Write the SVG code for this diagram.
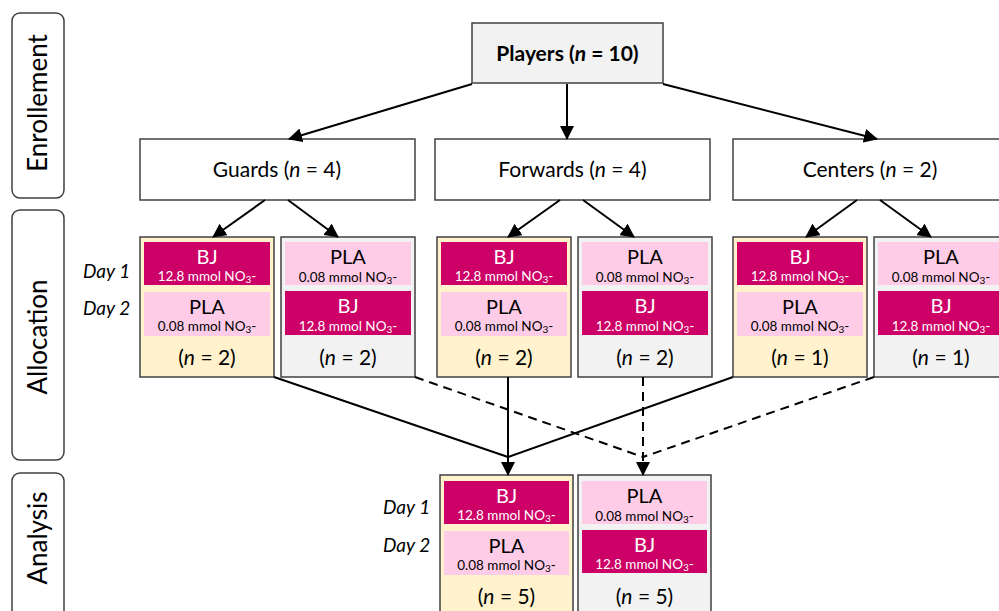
<svg xmlns="http://www.w3.org/2000/svg" width="999" height="611" viewBox="0 0 999 611">
<style>
text{font-family:Lato,"Open Sans","Liberation Sans",sans-serif;fill:#000}
.side{fill:#fff;stroke:#404040;stroke-width:1.5}
.sidet{font-size:26px;text-anchor:middle}
.node{fill:#fff;stroke:#404040;stroke-width:1.5}
.top{fill:#f2f2f2;stroke:#404040;stroke-width:1.5}
.yel{fill:#fff2cc;stroke:#404040;stroke-width:1.5}
.gry{fill:#f2f2f2;stroke:#404040;stroke-width:1.5}
.bj{fill:#cc0066}
.pla{fill:#ffcce8}
.nt{font-size:21px;text-anchor:middle}
.big{font-size:20px;text-anchor:middle}
.sub{font-size:13.5px;text-anchor:middle}
.w{fill:#fff}
.day{font-size:19px;font-style:italic}
.ln{stroke:#000;stroke-width:2;fill:none}
.dash{stroke-dasharray:9 6}
</style>
<defs>
<marker id="ah" markerUnits="userSpaceOnUse" markerWidth="14" markerHeight="14" viewBox="0 0 14 14" refX="13" refY="7" orient="auto">
<path d="M0,0 L14,7 L0,14 z" fill="#000"/>
</marker>
</defs>

<g id="side-enrollement"><rect class="side" x="12" y="13" width="52" height="185" rx="8"/><text class="sidet" transform="translate(47,103) rotate(-90)">Enrollement</text></g>
<g id="side-allocation"><rect class="side" x="12" y="210" width="52" height="250" rx="8"/><text class="sidet" transform="translate(47,337) rotate(-90)">Allocation</text></g>
<g id="side-analysis"><rect class="side" x="12" y="473" width="52" height="150" rx="8"/><text class="sidet" transform="translate(47,538) rotate(-90)">Analysis</text></g>

<g id="players"><rect class="top" x="472" y="23" width="191" height="60"/><text class="nt" x="567.5" y="61" font-weight="bold">Players (<tspan font-style="italic">n</tspan> = 10)</text></g>

<g id="guards"><rect class="node" x="140" y="139" width="275" height="61"/><text class="nt" x="277" y="177">Guards (<tspan font-style="italic">n</tspan> = 4)</text></g>
<g id="forwards"><rect class="node" x="435" y="139" width="275" height="61"/><text class="nt" x="572.5" y="177">Forwards (<tspan font-style="italic">n</tspan> = 4)</text></g>
<g id="centers"><rect class="node" x="733" y="139" width="275" height="61"/><text class="nt" x="870" y="177">Centers (<tspan font-style="italic">n</tspan> = 2)</text></g>

<g id="day-labels">
<text class="day" x="83" y="278">Day 1</text>
<text class="day" x="83" y="315">Day 2</text>
<text class="day" x="383" y="514">Day 1</text>
<text class="day" x="383" y="552">Day 2</text>
</g>

<g id="guards-bj-pla">
<rect class="yel" x="140" y="237" width="134" height="140"/>
<rect class="bj" x="144" y="242" width="126" height="43"/>
<text class="big w" x="207" y="264">BJ</text>
<text class="sub w" x="207" y="281">12.8 mmol NO<tspan font-size="10" dy="2">3</tspan><tspan dy="-2">-</tspan></text>
<rect class="pla" x="144" y="292" width="126" height="44"/>
<text class="big" x="207" y="314">PLA</text>
<text class="sub" x="207" y="331">0.08 mmol NO<tspan font-size="10" dy="2">3</tspan><tspan dy="-2">-</tspan></text>
<text class="nt" x="207" y="365">(<tspan font-style="italic">n</tspan> = 2)</text>
</g>
<g id="guards-pla-bj">
<rect class="gry" x="281" y="237" width="134" height="140"/>
<rect class="pla" x="285" y="242" width="126" height="43"/>
<text class="big" x="348" y="264">PLA</text>
<text class="sub" x="348" y="282">0.08 mmol NO<tspan font-size="10" dy="2">3</tspan><tspan dy="-2">-</tspan></text>
<rect class="bj" x="285" y="291" width="126" height="44"/>
<text class="big w" x="348" y="313">BJ</text>
<text class="sub w" x="348" y="331">12.8 mmol NO<tspan font-size="10" dy="2">3</tspan><tspan dy="-2">-</tspan></text>
<text class="nt" x="348" y="365">(<tspan font-style="italic">n</tspan> = 2)</text>
</g>

<g id="forwards-bj-pla">
<rect class="yel" x="437" y="237" width="134" height="140"/>
<rect class="bj" x="441" y="242" width="126" height="43"/>
<text class="big w" x="504" y="264">BJ</text>
<text class="sub w" x="504" y="281">12.8 mmol NO<tspan font-size="10" dy="2">3</tspan><tspan dy="-2">-</tspan></text>
<rect class="pla" x="441" y="292" width="126" height="44"/>
<text class="big" x="504" y="314">PLA</text>
<text class="sub" x="504" y="331">0.08 mmol NO<tspan font-size="10" dy="2">3</tspan><tspan dy="-2">-</tspan></text>
<text class="nt" x="504" y="365">(<tspan font-style="italic">n</tspan> = 2)</text>
</g>
<g id="forwards-pla-bj">
<rect class="gry" x="578" y="237" width="134" height="140"/>
<rect class="pla" x="582" y="242" width="126" height="43"/>
<text class="big" x="645" y="264">PLA</text>
<text class="sub" x="645" y="282">0.08 mmol NO<tspan font-size="10" dy="2">3</tspan><tspan dy="-2">-</tspan></text>
<rect class="bj" x="582" y="291" width="126" height="44"/>
<text class="big w" x="645" y="313">BJ</text>
<text class="sub w" x="645" y="331">12.8 mmol NO<tspan font-size="10" dy="2">3</tspan><tspan dy="-2">-</tspan></text>
<text class="nt" x="645" y="365">(<tspan font-style="italic">n</tspan> = 2)</text>
</g>

<g id="centers-bj-pla">
<rect class="yel" x="733" y="237" width="134" height="140"/>
<rect class="bj" x="737" y="242" width="126" height="43"/>
<text class="big w" x="800" y="264">BJ</text>
<text class="sub w" x="800" y="281">12.8 mmol NO<tspan font-size="10" dy="2">3</tspan><tspan dy="-2">-</tspan></text>
<rect class="pla" x="737" y="292" width="126" height="44"/>
<text class="big" x="800" y="314">PLA</text>
<text class="sub" x="800" y="331">0.08 mmol NO<tspan font-size="10" dy="2">3</tspan><tspan dy="-2">-</tspan></text>
<text class="nt" x="800" y="365">(<tspan font-style="italic">n</tspan> = 1)</text>
</g>
<g id="centers-pla-bj">
<rect class="gry" x="874" y="237" width="134" height="140"/>
<rect class="pla" x="878" y="242" width="126" height="43"/>
<text class="big" x="941" y="264">PLA</text>
<text class="sub" x="941" y="282">0.08 mmol NO<tspan font-size="10" dy="2">3</tspan><tspan dy="-2">-</tspan></text>
<rect class="bj" x="878" y="291" width="126" height="44"/>
<text class="big w" x="941" y="313">BJ</text>
<text class="sub w" x="941" y="331">12.8 mmol NO<tspan font-size="10" dy="2">3</tspan><tspan dy="-2">-</tspan></text>
<text class="nt" x="941" y="365">(<tspan font-style="italic">n</tspan> = 1)</text>
</g>

<g id="analysis-bj-pla">
<rect class="yel" x="440" y="475" width="133" height="145"/>
<rect class="bj" x="444" y="481" width="125" height="43"/>
<text class="big w" x="506.5" y="503">BJ</text>
<text class="sub w" x="506.5" y="520">12.8 mmol NO<tspan font-size="10" dy="2">3</tspan><tspan dy="-2">-</tspan></text>
<rect class="pla" x="444" y="531" width="125" height="44"/>
<text class="big" x="506.5" y="553">PLA</text>
<text class="sub" x="506.5" y="570">0.08 mmol NO<tspan font-size="10" dy="2">3</tspan><tspan dy="-2">-</tspan></text>
<text class="nt" x="506.5" y="604">(<tspan font-style="italic">n</tspan> = 5)</text>
</g>
<g id="analysis-pla-bj">
<rect class="gry" x="578" y="475" width="133" height="145"/>
<rect class="pla" x="582" y="481" width="125" height="43"/>
<text class="big" x="644.5" y="503">PLA</text>
<text class="sub" x="644.5" y="521">0.08 mmol NO<tspan font-size="10" dy="2">3</tspan><tspan dy="-2">-</tspan></text>
<rect class="bj" x="582" y="530" width="125" height="43"/>
<text class="big w" x="644.5" y="552">BJ</text>
<text class="sub w" x="644.5" y="569">12.8 mmol NO<tspan font-size="10" dy="2">3</tspan><tspan dy="-2">-</tspan></text>
<text class="nt" x="644.5" y="604">(<tspan font-style="italic">n</tspan> = 5)</text>
</g>

<g id="connectors">
<line class="ln" x1="472" y1="84" x2="289" y2="139" marker-end="url(#ah)"/>
<line class="ln" x1="567" y1="84" x2="567" y2="139" marker-end="url(#ah)"/>
<line class="ln" x1="663" y1="84" x2="877" y2="139" marker-end="url(#ah)"/>
<line class="ln" x1="265" y1="200" x2="213" y2="237" marker-end="url(#ah)"/>
<line class="ln" x1="288" y1="200" x2="338" y2="237" marker-end="url(#ah)"/>
<line class="ln" x1="560" y1="200" x2="508" y2="237" marker-end="url(#ah)"/>
<line class="ln" x1="583" y1="200" x2="634" y2="237" marker-end="url(#ah)"/>
<line class="ln" x1="857" y1="200" x2="806" y2="237" marker-end="url(#ah)"/>
<line class="ln" x1="880" y1="200" x2="931" y2="237" marker-end="url(#ah)"/>
<polyline class="ln" points="274,377 508,457"/>
<polyline class="ln" points="733,377 508,457"/>
<line class="ln" x1="508" y1="377" x2="508" y2="475" marker-end="url(#ah)"/>
<polyline class="ln dash" points="415,377 643,457"/>
<polyline class="ln dash" points="874,377 643,457"/>
<line class="ln dash" x1="643" y1="377" x2="643" y2="475" marker-end="url(#ah)"/>
</g>
</svg>
